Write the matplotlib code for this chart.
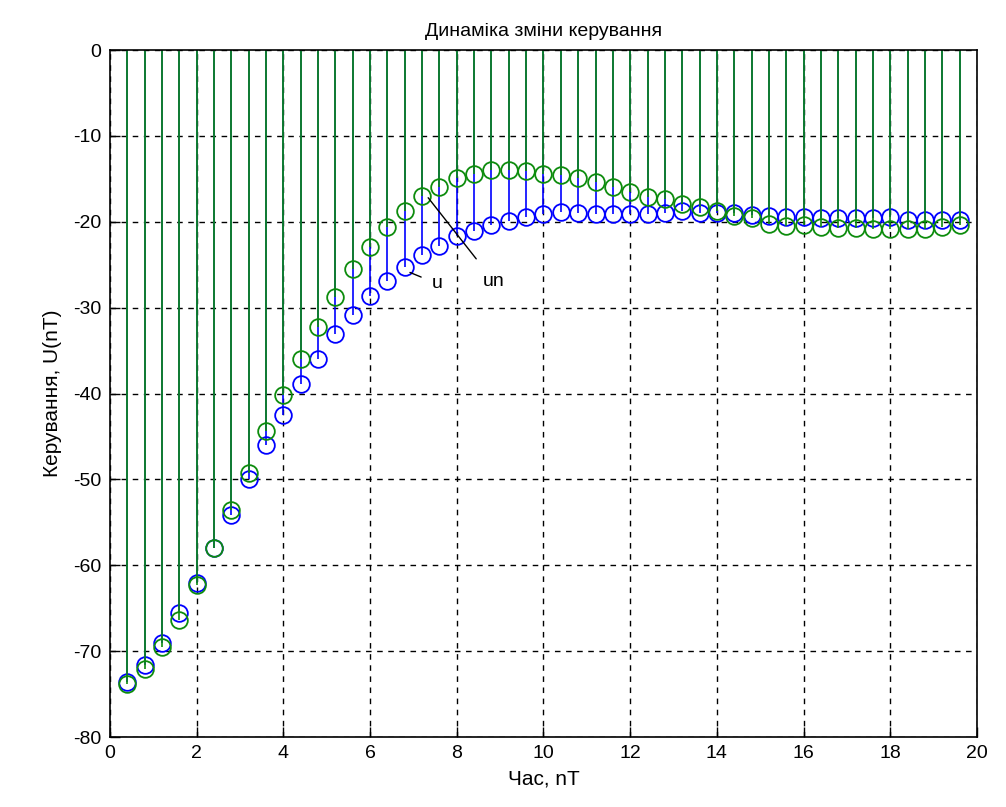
import numpy as np
import matplotlib
matplotlib.use("Agg")
import matplotlib.pyplot as plt

plt.rcParams['font.family'] = ['Liberation Sans', 'DejaVu Sans']
plt.rcParams['axes.unicode_minus'] = False

# sampling instants nT
t = [0.4, 0.8, 1.2, 1.6, 2.0, 2.4, 2.8, 3.2, 3.6, 4.0,
     4.4, 4.8, 5.2, 5.6, 6.0, 6.4, 6.8, 7.2, 7.6, 8.0,
     8.4, 8.8, 9.2, 9.6, 10.0, 10.4, 10.8, 11.2, 11.6, 12.0,
     12.4, 12.8, 13.2, 13.6, 14.0, 14.4, 14.8, 15.2, 15.6, 16.0,
     16.4, 16.8, 17.2, 17.6, 18.0, 18.4, 18.8, 19.2, 19.6]

# control signal u
u = [-73.6, -71.6, -69.0, -65.6, -62.1, -58.0, -54.1, -50.0, -46.0, -42.5,
     -38.9, -36.0, -33.1, -30.9, -28.7, -26.9, -25.3, -23.9, -22.8, -21.7,
     -21.1, -20.4, -19.9, -19.4, -19.1, -18.9, -19.0, -19.1, -19.1, -19.1,
     -19.1, -19.0, -18.7, -19.0, -19.0, -19.0, -19.2, -19.3, -19.4, -19.4,
     -19.6, -19.6, -19.6, -19.6, -19.5, -19.8, -19.8, -19.8, -19.8]

# control signal un
un = [-73.8, -72.1, -69.5, -66.4, -62.3, -58.0, -53.6, -49.2, -44.4, -40.2,
      -36.0, -32.2, -28.8, -25.5, -22.9, -20.6, -18.7, -17.0, -15.9, -14.9,
      -14.4, -14.0, -14.0, -14.1, -14.4, -14.5, -14.9, -15.4, -15.9, -16.5,
      -17.1, -17.4, -17.9, -18.3, -18.8, -19.3, -19.6, -20.2, -20.5, -20.4,
      -20.6, -20.7, -20.7, -20.8, -20.8, -20.8, -20.8, -20.6, -20.4]

blue = (0, 0, 1)
green = (0.05, 0.55, 0.05)

fig = plt.figure(figsize=(10.06, 8.07), dpi=100)
ax = fig.add_axes([0.1093, 0.0867, 0.8619, 0.8513])


def draw_stem(y, color):
    markers, stems, base = ax.stem(t, y, bottom=0)
    stems.set_color(color)
    stems.set_linewidth(1.2)
    markers.set_color(color)
    markers.set_marker('o')
    markers.set_markersize(12)
    markers.set_markerfacecolor('none')
    markers.set_markeredgewidth(1.3)
    base.set_visible(False)


draw_stem(u, blue)
draw_stem(un, green)

ax.annotate('u', xy=(6.92, -25.9), xytext=(7.42, -27.2), fontsize=14,
            ha='left', va='center',
            arrowprops=dict(arrowstyle='-', color='black', lw=1,
                            shrinkA=6, shrinkB=0))
ax.annotate('un', xy=(7.34, -17.2), xytext=(8.6, -26.9), fontsize=14,
            ha='left', va='center',
            arrowprops=dict(arrowstyle='-', color='black', lw=1,
                            shrinkA=10, shrinkB=0))

ax.set_xlim(0, 20)
ax.set_ylim(-80, 0)
ax.set_xticks(np.arange(0, 21, 2))
ax.set_yticks(np.arange(-80, 1, 10))
ax.tick_params(direction='in', length=7, labelsize=14, width=1, pad=6)
ax.grid(True, color='black', linestyle=(0, (4, 4)), linewidth=1)
ax.set_axisbelow(True)
for s in ax.spines.values():
    s.set_linewidth(1.2)

ax.set_title('Динаміка зміни керування', fontsize=14, pad=10)
ax.set_xlabel('Час, nT', fontsize=15, labelpad=5)
ax.set_ylabel('Керування, U(nT)', fontsize=15, labelpad=8)

fig.savefig('out.png', dpi=100)
